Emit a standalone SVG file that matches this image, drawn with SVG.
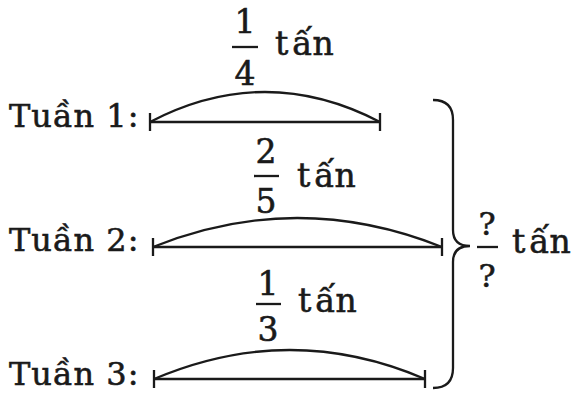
<svg xmlns="http://www.w3.org/2000/svg" width="583" height="396" viewBox="0 0 583 396">
<style>
text{font-family:"DejaVu Serif","Liberation Serif",serif;fill:#1a1a1a;stroke:#1a1a1a;stroke-width:0.6}
.lbl{font-size:32px;letter-spacing:1px}
.num{font-size:33px;text-anchor:middle}
.q{font-size:32px;text-anchor:middle}
.u{font-size:33px}
.ln{stroke:#1a1a1a;stroke-width:2.3;fill:none}
</style>
<rect width="583" height="396" fill="#ffffff"/>
<g id="week1">
<text class="lbl" x="9" y="127">Tuần 1:</text>
<text class="num" x="245" y="33">1</text>
<line class="ln" x1="232" y1="47" x2="258" y2="47"/>
<text class="num" x="245" y="85">4</text>
<text class="u" x="275" y="55">t<tspan dx="4">ấn</tspan></text>
</g>
<g id="week2">
<text class="lbl" x="9" y="251">Tuần 2:</text>
<text class="num" x="266" y="163">2</text>
<line class="ln" x1="254" y1="176" x2="279" y2="176"/>
<text class="num" x="266" y="213">5</text>
<text class="u" x="297" y="187">t<tspan dx="4">ấn</tspan></text>
</g>
<g id="week3">
<text class="lbl" x="9" y="385">Tuần 3:</text>
<text class="num" x="268" y="295">1</text>
<line class="ln" x1="256" y1="304" x2="281" y2="304"/>
<text class="num" x="268" y="341">3</text>
<text class="u" x="298" y="312">t<tspan dx="4">ấn</tspan></text>
</g>
<g id="total">
<text class="q" x="487" y="235">?</text>
<line class="ln" x1="477" y1="247" x2="498" y2="247"/>
<text class="q" x="487" y="287">?</text>
<text class="u" x="512" y="253">t<tspan dx="4">ấn</tspan></text>
</g>
<g id="connectors">
<line class="ln" x1="150" y1="122" x2="380" y2="122"/>
<line class="ln" x1="150" y1="113" x2="150" y2="131"/>
<line class="ln" x1="380" y1="113" x2="380" y2="131"/>
<path class="ln" d="M150,122 Q265,62 380,122"/>
<line class="ln" x1="153" y1="247" x2="442" y2="247"/>
<line class="ln" x1="153" y1="238" x2="153" y2="256"/>
<line class="ln" x1="442" y1="238" x2="442" y2="256"/>
<path class="ln" d="M153,247 Q297,189 442,247"/>
<line class="ln" x1="154" y1="379" x2="425" y2="379"/>
<line class="ln" x1="154" y1="370" x2="154" y2="388"/>
<line class="ln" x1="425" y1="370" x2="425" y2="388"/>
<path class="ln" d="M154,379 Q290,321 425,379"/>
<path class="ln" d="M433,100 Q453,100 453,120 L453,230 Q453,246 470,246 Q453,246 453,262 L453,368 Q453,388 433,388"/>
</g>
</svg>
